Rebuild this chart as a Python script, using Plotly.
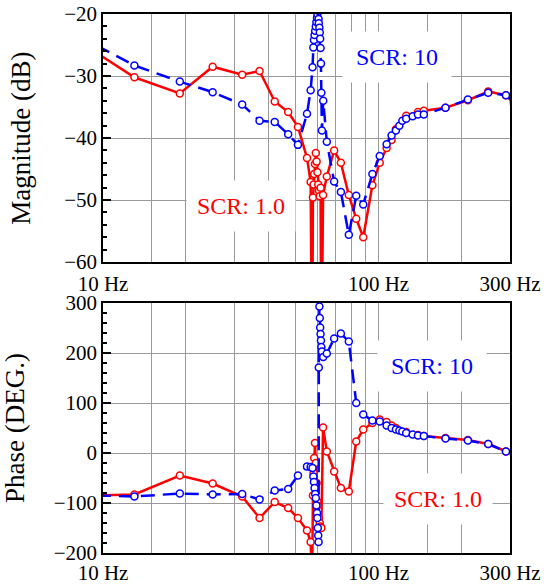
import plotly.graph_objects as go
from plotly.subplots import make_subplots

# ---------------- data ----------------
# SCR: 1.0 (red)
red_freq = [9.5, 13, 19, 25, 32, 37, 42, 47, 51, 55, 56.7, 57.4, 57.8, 58.1, 58.4, 58.8,
            59.2, 59.6, 60.0, 60.4, 60.8, 61.2, 61.6, 62.0, 62.9, 64.9, 69, 73, 78, 83, 88,
            95, 101, 107, 111.5, 115.6, 126, 139, 146, 175, 211, 250, 290, 310]
red_mag = [-26.3, -30.2, -32.8, -28.5, -29.8, -29.2, -34.1, -35.8, -38.2, -43.2, -47.1, -80,
           -49.6, -47.5, -45.8, -44.2, -42.4, -43.8, -45.5, -47.5, -48.5, -49.4, -48.0, -80,
           -49.2, -46.2, -42.0, -44.0, -49.2, -53.0, -56.0, -47.6, -44.0, -41.6, -40.3, -38.6,
           -36.4, -35.8, -35.6, -35.1, -33.9, -32.5, -33.1, -34.5]
red_phase = [-85, -83, -45, -61, -87, -130, -98, -110, -130, -155, -178, -260,
             -85, -40, -10, 20, -20, -60, -97, -115, -130, -140, -147, -150,
             51, 3, -37, -70, -77, 23, 47, 60, 67, 62, 55, 50,
             42, 36, 34, 30, 26, 18, 3, -3]

# SCR: 10 (blue)
blue_freq = [9.5, 13, 19, 25, 32, 37, 42, 47, 51, 55, 56.7, 57.6, 58.0, 58.3, 58.6, 58.9,
             59.2, 59.5, 59.8, 60.0, 60.2, 60.4, 60.6, 60.7, 61.0, 61.2, 61.4, 61.6, 61.8,
             62.0, 62.3, 63.0, 64.9, 69, 73, 78, 83, 88, 95, 101, 107, 111.5, 115.6, 119,
             122, 126, 133, 139, 146, 175, 211, 250, 290, 310]
blue_mag = [-25.1, -28.3, -30.9, -32.6, -34.6, -37.2, -37.4, -39.4, -41.1, -36.1, -32.3, -28.6,
            -25.4, -24.2, -23.4, -22.7, -22.0, -21.3, -20.6, -20.0, -19.0, -19.5, -20.8, -21.5,
            -22.2, -23.0, -24.0, -25.5, -28.0, -32.7, -38.8, -34.0, -40.6, -47.0, -48.7, -55.6,
            -49.3, -50.7, -45.8, -42.9, -41.0, -39.6, -38.8, -38.0, -37.2, -36.9, -36.5, -36.2,
            -36.2, -35.1, -33.8, -32.7, -33.1, -34.2]
blue_phase = [-85, -87, -81, -83, -82, -93, -75, -72, -45, -27, -28, -30,
              -47, -58, -70, -82, -90, -105, -120, -130, -150, -165, -178, 171,
              293, 270, 251, 238, 225, 212, 203, 192, 199, 229, 239, 223,
              100, 77, 65, 63, 55, 50, 47, 45, 43, 40, 37, 35,
              34, 29, 25, 18, 3, -2]

grid_freqs = [10, 15, 20, 30, 40, 50, 60, 70, 80, 90, 100, 150, 200, 300]
grid_text = ["10 Hz", "", "", "", "", "", "", "", "", "", "100 Hz", "", "", "300 Hz"]

RED = "#ff0000"
BLUE = "#0000ff"
FONT = "Liberation Serif"

fig = make_subplots(rows=2, cols=1)

def add_series(x, y, color, dash, row):
    fig.add_trace(go.Scatter(
        x=x, y=y, mode="lines+markers",
        line=dict(color=color, width=2.5, dash=dash),
        marker=dict(symbol="circle", size=7, color="white",
                    line=dict(color=color, width=1.5)),
        showlegend=False), row=row, col=1)

add_series(red_freq, red_mag, RED, "solid", 1)
add_series(blue_freq, blue_mag, BLUE, "14px,8px", 1)
add_series(red_freq, red_phase, RED, "solid", 2)
add_series(blue_freq, blue_phase, BLUE, "14px,8px", 2)

xcommon = dict(type="log", range=[1, 2.4771], tickvals=grid_freqs, ticktext=grid_text,
               showgrid=True, gridcolor="#999999", gridwidth=1.2,
               showline=True, mirror=True, linecolor="black", linewidth=1.5,
               ticks="", zeroline=False, automargin=False,
               tickfont=dict(family=FONT, size=21, color="black"))
ycommon = dict(showgrid=True, gridcolor="#999999", gridwidth=1.2,
               showline=True, mirror=True, linecolor="black", linewidth=1.5,
               ticks="inside", ticklen=8, tickwidth=1.5, tickcolor="black",
               zeroline=False, automargin=False,
               tickfont=dict(family=FONT, size=21, color="black"))

fig.update_xaxes(**xcommon, ticklabelstandoff=2, row=1, col=1)
fig.update_xaxes(**xcommon, row=2, col=1)
fig.update_yaxes(**ycommon, range=[-60, -20], dtick=10,
                 minor=dict(dtick=2, ticks="inside", ticklen=4, tickcolor="black", showgrid=False),
                 title=dict(text="Magnitude (dB)", font=dict(family=FONT, size=27, color="black"), standoff=26),
                 row=1, col=1)
fig.update_yaxes(**ycommon, range=[-200, 300], dtick=100,
                 minor=dict(dtick=20, ticks="inside", ticklen=4, tickcolor="black", showgrid=False),
                 title=dict(text="Phase (DEG.)", font=dict(family=FONT, size=27, color="black"), standoff=26),
                 row=2, col=1)

fig.update_layout(
    width=544, height=585,
    margin=dict(l=103, r=34, t=14, b=32),
    plot_bgcolor="white", paper_bgcolor="white",
    xaxis=dict(domain=[0, 1]), xaxis2=dict(domain=[0, 1]),
    yaxis=dict(domain=[0.5397, 1.0]), yaxis2=dict(domain=[0.0, 0.4638]),
)

def label(text, x, y, color, xref, yref):
    fig.add_annotation(text=text, x=x, y=y, xref=xref, yref=yref, showarrow=False,
                       font=dict(family=FONT, size=24, color=color),
                       bgcolor="white", width=106, height=48)

label("SCR: 10", 2.0665, -27.0, BLUE, "x", "y")
label("SCR: 1.0", 1.4993, -51.0, RED, "x", "y")
label("SCR: 10", 2.195, 174, BLUE, "x2", "y2")
label("SCR: 1.0", 2.2168, -92, RED, "x2", "y2")

fig.write_html("out.html")
